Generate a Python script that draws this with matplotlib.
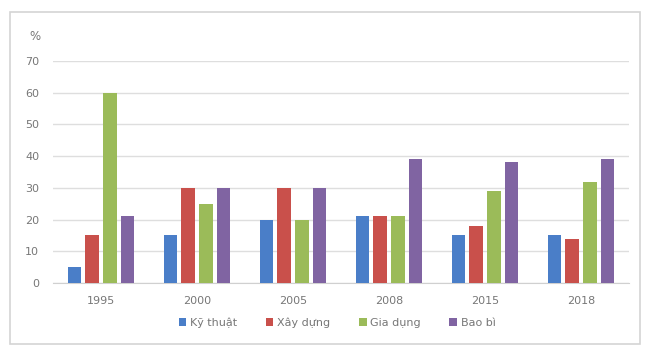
import numpy as np
import matplotlib.pyplot as plt
from matplotlib.patches import Rectangle

years = ['1995', '2000', '2005', '2008', '2015', '2018']
ky_thuat = [5, 15, 20, 21, 15, 15]
xay_dung = [15, 30, 30, 21, 18, 14]
gia_dung = [60, 25, 20, 21, 29, 32]
bao_bi = [21, 30, 30, 39, 38, 39]

series = [ky_thuat, xay_dung, gia_dung, bao_bi]
names = ['Kỹ thuật', 'Xây dựng', 'Gia dụng', 'Bao bì']
colors = ['#4a7ec8', '#c9504b', '#9bbb59', '#8064a2']

fig = plt.figure(figsize=(6.49, 3.52), dpi=100)
fig.patch.set_facecolor('white')
# khung vien bao quanh bieu do
fig.patches.append(Rectangle((10 / 649, 8 / 352), 630 / 649, 332 / 352,
                             transform=fig.transFigure, fill=False,
                             edgecolor='#d4d4d4', linewidth=1.2))

ax = fig.add_axes([53 / 649, 1 - 283 / 352, 576 / 649, 222 / 352])
x = np.arange(len(years))
step = 0.184
width = 0.14
for i, (vals, name, c) in enumerate(zip(series, names, colors)):
    ax.bar(x + (i - 1.5) * step, vals, width, color=c, label=name, zorder=3)

ax.set_xlim(-0.5, len(years) - 0.5)
ax.set_ylim(0, 70)
ax.set_yticks(range(0, 71, 10))
ax.set_xticks(x)
ax.set_xticklabels(years)
ax.grid(axis='y', color='#dedede', linewidth=1, zorder=0)
for s in ['top', 'right', 'left']:
    ax.spines[s].set_visible(False)
ax.spines['bottom'].set_color('#d0d0d0')
ax.tick_params(axis='both', length=0, colors='#777777', labelsize=8)
ax.tick_params(axis='y', pad=10)
ax.tick_params(axis='x', pad=9)

fig.text(35 / 649, 1 - 37 / 352, '%', color='#777777', fontsize=8.5,
         ha='center', va='center')

fig.legend(loc='center', bbox_to_anchor=(337 / 649, 1 - 323 / 352), ncol=4,
           frameon=False, fontsize=8, labelcolor='#777777',
           handlelength=0.7, handleheight=0.7, handletextpad=0.3,
           columnspacing=2.6)

fig.savefig('out.png', dpi=100)
